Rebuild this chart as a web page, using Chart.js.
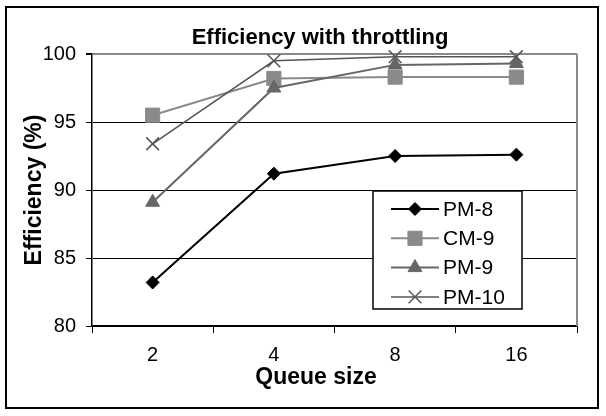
<!DOCTYPE html>
<html>
<head>
<meta charset="utf-8">
<script src="https://cdn.jsdelivr.net/npm/chart.js@4"></script>
<style>
  html, body { margin: 0; padding: 0; background: #fff; }
  #wrap { position: relative; width: 606px; height: 416px; }
</style>
</head>
<body>
<div id="wrap"><canvas id="eff" width="606" height="416"></canvas></div>
<script>
const queueSizes = ['2', '4', '8', '16'];
const pm8 = [83.2, 91.2, 92.5, 92.6];
const cm9 = [95.5, 98.2, 98.3, 98.3];
const pm9 = [89.1, 97.5, 99.2, 99.3];
const pm10 = [93.4, 99.5, 99.8, 99.8];
const yTicks = [80, 85, 90, 95, 100];

const FONT = "'Liberation Sans', Arial, sans-serif";

// title, x title, outer frame, plot border and the boxed legend
const frame = {
    id: 'frame',
    beforeDraw(chart) {
        const ctx = chart.ctx;
        ctx.save();
        ctx.fillStyle = '#fff';
        ctx.fillRect(0, 0, chart.width, chart.height);
        ctx.restore();
    },
    beforeDatasetsDraw(chart) {
        const {ctx, chartArea: a} = chart;
        ctx.save();
        ctx.strokeStyle = '#8a8a8a';
        ctx.lineWidth = 2;
        ctx.beginPath();
        ctx.moveTo(a.right, a.top);
        ctx.lineTo(a.right, a.bottom);
        ctx.stroke();
        ctx.restore();
    },
    afterDraw(chart) {
        const ctx = chart.ctx;
        ctx.save();
        ctx.strokeStyle = '#000';
        ctx.lineWidth = 2;
        ctx.strokeRect(6, 7, 592, 401);

        ctx.fillStyle = '#000';
        ctx.textAlign = 'center';
        ctx.textBaseline = 'middle';
        ctx.font = 'bold 22px ' + FONT;
        ctx.fillText('Efficiency with throttling', 320, 38);
        ctx.font = 'bold 23px ' + FONT;
        ctx.fillText('Queue size', 316, 378);

        // legend
        const box = {x: 373, y: 191, w: 149, h: 118};
        ctx.fillStyle = '#fff';
        ctx.fillRect(box.x, box.y, box.w, box.h);
        ctx.lineWidth = 1.5;
        ctx.strokeStyle = '#000';
        ctx.strokeRect(box.x, box.y, box.w, box.h);
        ctx.font = '21px ' + FONT;
        ctx.textAlign = 'left';
        chart.data.datasets.forEach((ds, i) => {
            const y = 209 + i * 29.3;
            ctx.strokeStyle = ds.borderColor;
            ctx.lineWidth = ds.borderWidth;
            ctx.beginPath();
            ctx.moveTo(391, y);
            ctx.lineTo(439, y);
            ctx.stroke();
            ctx.fillStyle = ds.backgroundColor;
            ctx.strokeStyle = ds.borderColor;
            ctx.lineWidth = ds.pointBorderWidth;
            Chart.helpers.drawPoint(ctx, {
                pointStyle: ds.pointStyle,
                radius: ds.pointRadius,
                rotation: 0,
                borderWidth: ds.pointBorderWidth
            }, 415, y);
            ctx.fillStyle = '#000';
            ctx.fillText(ds.label, 443, y + 1);
        });
        ctx.restore();
    }
};

new Chart(document.getElementById('eff'), {
    type: 'line',
    data: {
        labels: queueSizes,
        datasets: [
            {
                label: 'PM-8',
                data: pm8,
                borderColor: '#000',
                backgroundColor: '#000',
                borderWidth: 2,
                pointStyle: 'rectRot',
                pointRadius: 6.5,
                pointBorderWidth: 1,
                order: 3
            },
            {
                label: 'CM-9',
                data: cm9,
                borderColor: '#8a8a8a',
                backgroundColor: '#8a8a8a',
                borderWidth: 2,
                pointStyle: 'rect',
                pointRadius: 10,
                pointBorderWidth: 1,
                order: 2
            },
            {
                label: 'PM-9',
                data: pm9,
                borderColor: '#666',
                backgroundColor: '#666',
                borderWidth: 2,
                pointStyle: 'triangle',
                pointRadius: 8,
                pointBorderWidth: 1,
                order: 1
            },
            {
                label: 'PM-10',
                data: pm10,
                borderColor: '#555',
                backgroundColor: '#555',
                borderWidth: 1.5,
                pointStyle: 'crossRot',
                pointRadius: 9,
                pointBorderWidth: 1.5,
                order: 0
            }
        ]
    },
    options: {
        responsive: false,
        animation: false,
        events: [],
        clip: false,
        elements: { line: { tension: 0 } },
        layout: { padding: { top: 54, right: 29, left: 0, bottom: 0 } },
        plugins: {
            legend: { display: false },
            title: { display: false },
            tooltip: { enabled: false }
        },
        scales: {
            x: {
                offset: true,
                grid: {
                    offset: true,
                    drawOnChartArea: false,
                    tickLength: 7,
                    color: '#000',
                    lineWidth: 1
                },
                border: { color: '#000', width: 1.5 },
                ticks: { color: '#000', font: { family: FONT, size: 20 }, padding: 10 },
                afterFit(s) { s.height = 90; }
            },
            y: {
                min: 80,
                max: 100,
                afterBuildTicks(s) { s.ticks = yTicks.map(v => ({ value: v })); },
                grid: {
                    color: c => c.tick && c.tick.value === 100 ? '#8a8a8a' : '#000',
                    lineWidth: c => c.tick && c.tick.value === 100 ? 2 : 1,
                    tickColor: '#000',
                    tickLength: 6
                },
                border: { color: '#000', width: 1.5 },
                ticks: { color: '#000', font: { family: FONT, size: 20 }, padding: 10 },
                title: {
                    display: true,
                    text: 'Efficiency (%)',
                    color: '#000',
                    font: { family: FONT, size: 23, weight: 'bold' },
                    padding: { top: 21, bottom: 0 }
                },
                afterFit(s) { s.width = 92; }
            }
        }
    },
    plugins: [frame]
});
</script>
</body>
</html>
